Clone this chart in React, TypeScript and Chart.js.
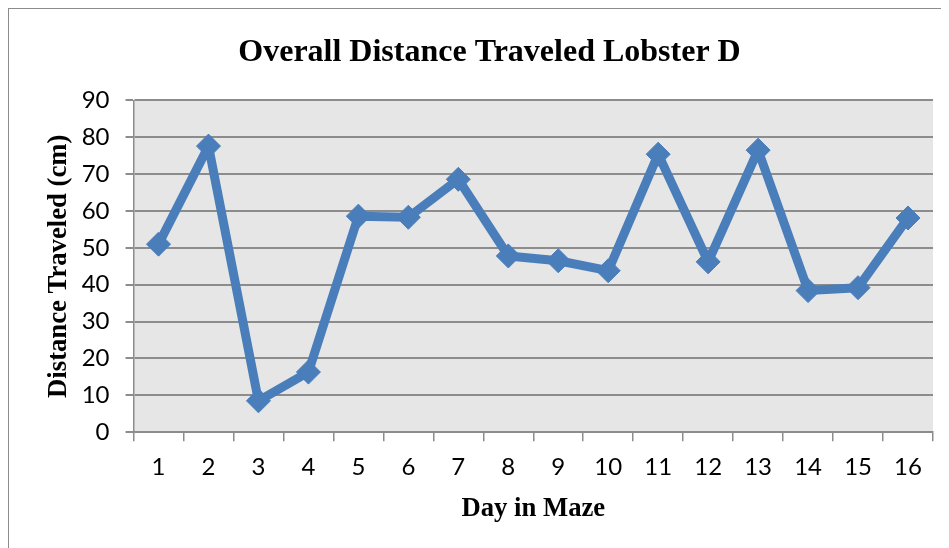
import React, { useEffect, useRef } from "react";
import { Chart, registerables } from "chart.js";

Chart.register(...registerables);

const days = ["1", "2", "3", "4", "5", "6", "7", "8", "9", "10", "11", "12", "13", "14", "15", "16"];
const distance = [51, 77.6, 8.5, 16.3, 58.6, 58.3, 68.6, 47.8, 46.5, 43.8, 75.4, 46.2, 76.5, 38.4, 39.2, 58.1];
const titleText = "Overall Distance Traveled Lobster D";
const xTitle = "Day in Maze";
const yTitle = "Distance Traveled (cm)";

const plotBg = {
  id: "plotBg",
  beforeDraw(chart: any) {
    const { ctx, chartArea } = chart;
    ctx.save();
    ctx.fillStyle = "#e6e6e6";
    ctx.fillRect(chartArea.left, chartArea.top, chartArea.right - chartArea.left, chartArea.bottom - chartArea.top);
    ctx.restore();
  },
};

export default function App() {
  const ref = useRef<HTMLCanvasElement>(null);
  useEffect(() => {
    const serif = "'Liberation Serif', 'Times New Roman', serif";
    const sans = "Lato, 'Open Sans', sans-serif";
    const chart = new Chart(ref.current!, {
      type: "line",
      data: {
        labels: days,
        datasets: [
          {
            data: distance,
            borderColor: "#4a7ebb",
            backgroundColor: "#4a7ebb",
            borderWidth: 9,
            borderJoinStyle: "round",
            pointStyle: "rectRot",
            pointRadius: 12,
            pointBorderWidth: 1,
            pointBackgroundColor: "#4a7ebb",
            pointBorderColor: "#4a7ebb",
            tension: 0,
          },
        ],
      },
      options: {
        responsive: false,
        animation: false,
        devicePixelRatio: 1,
        layout: { padding: { left: 37, right: 30, top: 12, bottom: 24 } },
        plugins: {
          legend: { display: false },
          tooltip: { enabled: false },
          title: {
            display: true,
            text: titleText,
            color: "#000",
            font: { family: serif, size: 32, weight: "bold" },
            padding: { top: 13, bottom: 28 },
          },
        },
        scales: {
          x: {
            offset: true,
            grid: {
              offset: true,
              drawOnChartArea: false,
              drawTicks: true,
              tickLength: 9,
              color: "#8c8c8c",
              lineWidth: 1.5,
            },
            border: { color: "#8c8c8c", width: 1.5 },
            ticks: { color: "#000", font: { family: sans, size: 24 }, padding: 12, maxRotation: 0 },
            title: {
              display: true,
              text: xTitle,
              color: "#000",
              font: { family: serif, size: 26.7, weight: "bold" },
              padding: { top: -1, bottom: 0 },
            },
          },
          y: {
            min: 0,
            max: 90,
            ticks: { stepSize: 10, color: "#000", font: { family: sans, size: 24 }, padding: 16 },
            grid: { color: "#8c8c8c", lineWidth: 2, tickLength: 8 },
            border: { color: "#8c8c8c", width: 1.5 },
            title: {
              display: true,
              text: yTitle,
              color: "#000",
              font: { family: serif, size: 26.7, weight: "bold", lineHeight: 1 },
              padding: { top: 0, bottom: -7 },
            },
          },
        },
      },
      plugins: [plotBg],
    } as any);
    return () => chart.destroy();
  }, []);
  return (
    <div
      style={{
        width: 941,
        height: 540,
        overflow: "hidden",
        borderLeft: "1.5px solid #8c8c8c",
        borderTop: "1.5px solid #8c8c8c",
        boxSizing: "border-box",
      }}
    >
      <canvas ref={ref} width={954} height={540} style={{ display: "block" }} />
    </div>
  );
}
